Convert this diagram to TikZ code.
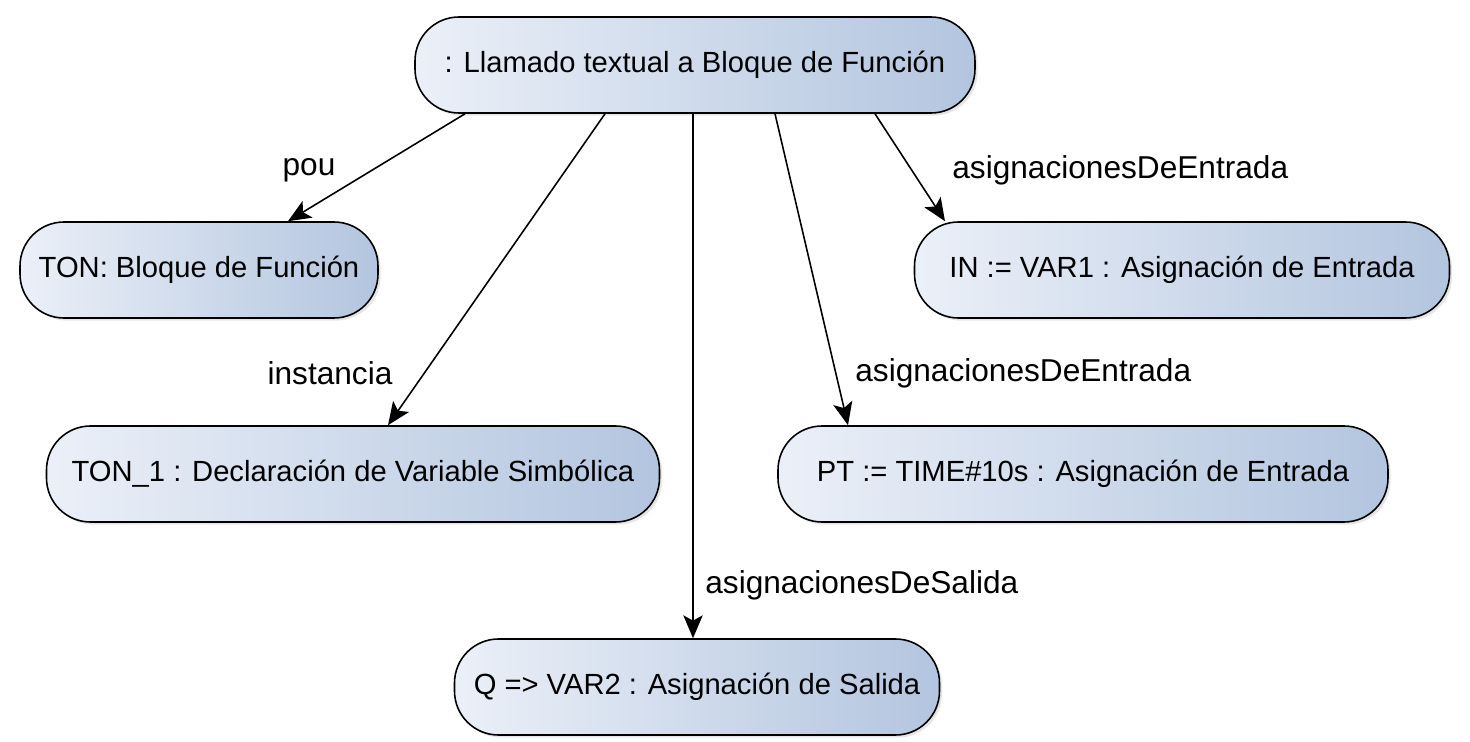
\documentclass[tikz,border=0pt]{standalone}
\usepackage{fontspec}
\setmainfont{Liberation Sans}
\usetikzlibrary{calc,arrows.meta,shadows}

\definecolor{boxleft}{HTML}{EBF0F8}
\definecolor{boxright}{HTML}{B3C5DF}

\tikzset{
    objbox/.style={rectangle, rounded corners=0.88cm, draw=black, line width=0.9pt,
        left color=boxleft, right color=boxright, inner sep=0pt,
        minimum height=1.92cm, font=\fontsize{16.6}{19}\selectfont,
        drop shadow={opacity=0.2, shadow xshift=1.5pt, shadow yshift=-1.5pt}},
    rel/.style={line width=0.9pt, -{Stealth[length=13pt,width=11pt,inset=3pt]}},
    rellabel/.style={font=\fontsize{18}{21}\selectfont, inner sep=0pt}
}

\begin{document}
\begin{tikzpicture}

    \useasboundingbox (0,0) rectangle (29.4,-14.84);

    % nodes
    \node[objbox, minimum width=11.2cm] (llamado) at (13.9,-1.3) {: Llamado textual a Bloque de Función};
    \node[objbox, minimum width=7.16cm] (ton) at (3.98,-5.4) {TON: Bloque de Función};
    \node[objbox, minimum width=12.26cm] (ton1) at (7.06,-9.48) {TON\_1 : Declaración de Variable Simbólica};
    \node[objbox, minimum width=9.7cm] (salida) at (13.94,-13.74) {Q => VAR2 : Asignación de Salida};
    \node[objbox, minimum width=10.7cm] (entradaIN) at (23.64,-5.4) {IN := VAR1 : Asignación de Entrada};
    \node[objbox, minimum width=12.2cm] (entradaPT) at (21.66,-9.48) {PT := TIME\#10s : Asignación de Entrada};

    % links
    \draw[rel] ($(llamado.south)+(-4.6,0)$) -- ($(ton.north)+(1.78,0)$);
    \draw[rel] ($(llamado.south)+(-1.8,0)$) -- ($(ton1.north)+(0.7,0)$);
    \draw[rel] ($(llamado.south)+(-0.04,0)$) -- ($(salida.north)+(-0.08,0)$);
    \draw[rel] ($(llamado.south)+(1.6,0)$) -- ($(entradaPT.north)+(-4.7,0)$);
    \draw[rel] ($(llamado.south)+(3.6,0)$) -- ($(entradaIN.north)+(-4.74,0)$);

    \node[rellabel] (lpou) at (6.18,-3.4) {pou};
    \node[rellabel] (linst) at (6.6,-7.46) {instancia};
    \node[rellabel, anchor=west] (lsal) at (14.1,-11.7) {asignacionesDeSalida};
    \node[rellabel, anchor=west] (lentPT) at (17.1,-7.46) {asignacionesDeEntrada};
    \node[rellabel, anchor=west] (lentIN) at (19.04,-3.4) {asignacionesDeEntrada};

\end{tikzpicture}
\end{document}
